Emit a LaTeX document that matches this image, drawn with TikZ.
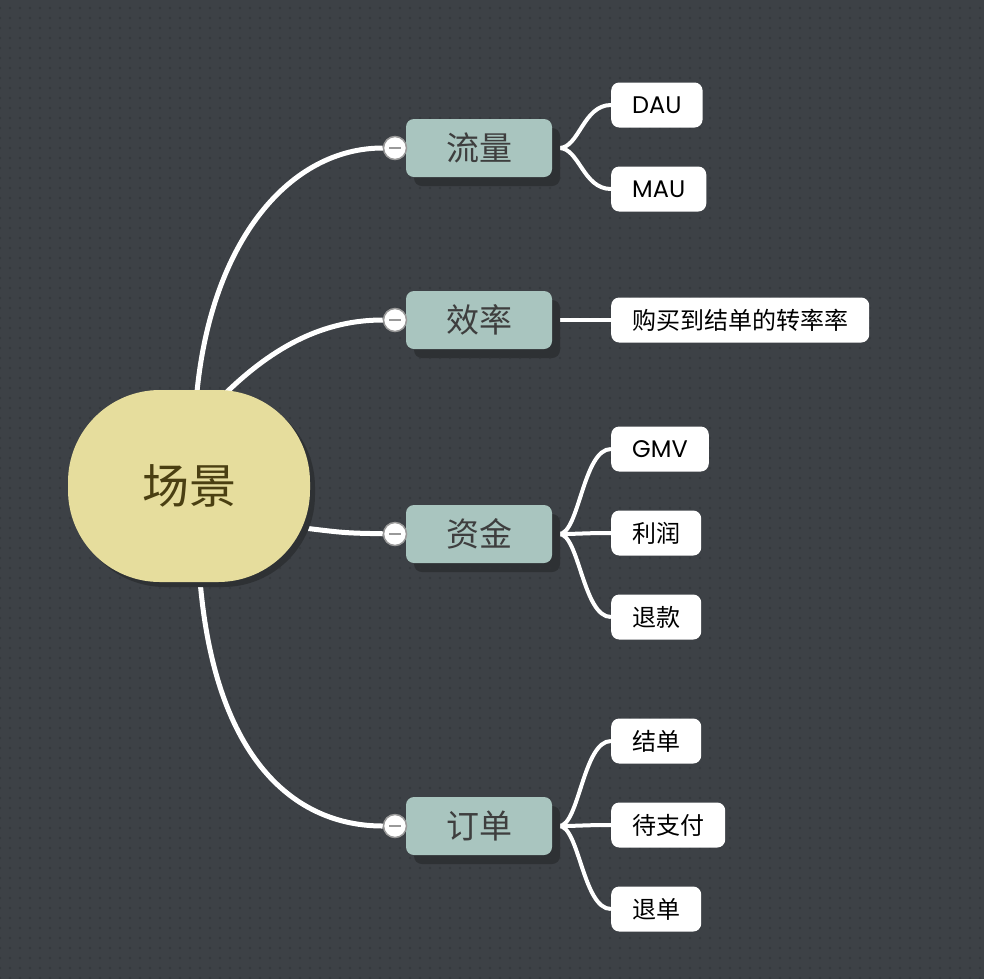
\documentclass[tikz,border=0pt]{standalone}
\usepackage{fontspec}
\newfontfamily\cjk{Noto Sans CJK SC}
\newfontfamily\lat{Poppins}
\usetikzlibrary{shadows, patterns.meta}
\definecolor{bgc}{HTML}{3D4146}
\definecolor{dotc}{HTML}{33373B}
\definecolor{rootc}{HTML}{E6DD9D}
\definecolor{rootink}{HTML}{4A3F12}
\definecolor{midc}{HTML}{A9C5BF}
\definecolor{midink}{HTML}{3E3E3E}
\definecolor{shadc}{HTML}{2E3134}
\definecolor{stubc}{HTML}{C9C9C9}
\pgfdeclarelayer{back}
\pgfdeclarelayer{wires}
\pgfsetlayers{back,wires,main}

\begin{document}
\begin{tikzpicture}[x=1pt, y=-1pt,
  root/.style={rectangle, rounded corners=92pt, fill=rootc, minimum width=242pt, minimum height=192pt,
    text=rootink, font=\cjk\fontsize{47}{50}\selectfont,
    drop shadow={shadow xshift=5pt, shadow yshift=-5pt, fill=shadc, opacity=1}},
  topic/.style={rectangle, rounded corners=8pt, fill=midc, minimum width=146pt, minimum height=58pt,
    text=midink, font=\cjk\fontsize{33}{36}\selectfont,
    drop shadow={shadow xshift=8pt, shadow yshift=-9pt, fill=shadc, opacity=1}},
  leaf/.style={rectangle, rounded corners=8pt, fill=white, anchor=west, minimum height=45pt,
    inner xsep=21pt, text=black, font=\cjk\fontsize{24}{27}\selectfont},
  fold/.style={circle, fill=white, draw=gray!80, line width=1.5pt, minimum size=23pt, inner sep=0pt},
  wire/.style={white, line width=5pt},
  twig/.style={white, line width=4pt}
]
\useasboundingbox (0,0) rectangle (984,978);

% --- Sfondo ---
\begin{pgfonlayer}{back}
\fill[bgc] (-6,-6) rectangle (990,984);
\fill[pattern={Dots[distance=10pt, radius=1.1pt]}, pattern color=dotc] (-6,-6) rectangle (990,984);
\end{pgfonlayer}

% --- Nodo centrale e rami ---
\node[root] (root) at (189,486) {场景};
\node[topic] (t1) at (479,148) {流量};
\node[topic] (t2) at (479,320) {效率};
\node[topic] (t3) at (479,534) {资金};
\node[topic] (t4) at (479,826) {订单};

\foreach \i/\y in {1/148, 2/320, 3/534, 4/826}{
  \node[fold] (c\i) at (395,\y) {};
  \draw[gray!80, line width=1.5pt] ([xshift=-6pt]c\i.center) -- ([xshift=6pt]c\i.center);
}

% --- Foglie ---
\foreach \n/\y/\txt in {dau/105/{\lat DAU}, mau/189/{\lat MAU}, conv/320/购买到结单的转率率,
  gmv/449/{\lat GMV}, profit/533/利润, refund/617/退款,
  closed/741/结单, unpaid/825/待支付, cancel/909/退单}{
  \node[leaf] (\n) at (611,\y) {\txt};
}

% --- Collegamenti ---
\begin{pgfonlayer}{wires}
\draw[wire] ([xshift=8pt,yshift=-2pt]root.north) .. controls (212,240) and (290,148) .. (c1);
\draw[wire] ([xshift=36pt,yshift=-4pt]root.north) .. controls (275,345) and (325,320) .. (c2);
\draw[wire] ([xshift=-6pt,yshift=-42pt]root.east) .. controls (345,533) .. (c3);
\draw[wire] ([xshift=11pt,yshift=2pt]root.south) .. controls (215,760) and (295,826) .. (c4);

\foreach \t/\leaves in {t1/{dau,mau}, t2/{conv}, t3/{gmv,profit,refund}, t4/{closed,unpaid,cancel}}{
  \draw[stubc, line width=4pt] (\t.east) -- ([xshift=8pt]\t.east);
  \foreach \l in \leaves
    \draw[twig] ([xshift=7pt]\t.east) .. controls +(20,0) and +(-28,0) .. (\l.west);
}
\end{pgfonlayer}

\end{tikzpicture}
\end{document}
